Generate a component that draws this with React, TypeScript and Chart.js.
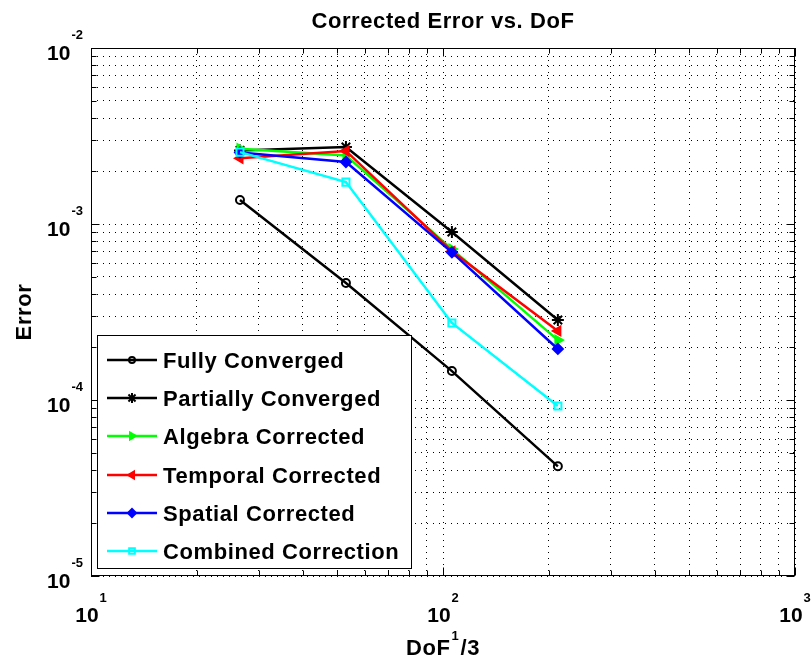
import React, { useEffect, useRef } from 'react';
import { Chart, registerables } from 'chart.js';
import { drawPoint } from 'chart.js/helpers';

Chart.register(...registerables);

// ---- data ----
const dof = [26.5, 53, 106, 212];
const fullyConverged = [1.37e-3, 4.62e-4, 1.46e-4, 4.2e-5];
const partiallyConverged = [2.62e-3, 2.74e-3, 9.0e-4, 2.85e-4];
const algebraCorrected = [2.68e-3, 2.45e-3, 7.2e-4, 2.19e-4];
const temporalCorrected = [2.36e-3, 2.6e-3, 7.0e-4, 2.47e-4];
const spatialCorrected = [2.55e-3, 2.25e-3, 6.9e-4, 1.95e-4];
const combinedCorrection = [2.56e-3, 1.73e-3, 2.74e-4, 9.25e-5];

const seriesNames = [
  'Fully Converged',
  'Partially Converged',
  'Algebra Corrected',
  'Temporal Corrected',
  'Spatial Corrected',
  'Combined Correction',
];

const xDecades = [10, 100, 1000];
const xExponents = ['1', '2', '3'];
const yDecades = [1e-5, 1e-4, 1e-3, 1e-2];
const yExponents = ['-5', '-4', '-3', '-2'];

const titleText = 'Corrected Error vs. DoF';
const yTitle = 'Error';
const xTitleParts = ['DoF', '1', '/3'];

const FONT = '"Liberation Sans", Arial, Helvetica, sans-serif';

function gridValues(decades: number[]) {
  const out: number[] = [];
  for (let i = 0; i < decades.length - 1; i++) {
    for (let k = 1; k <= 9; k++) out.push(+(k * decades[i]).toPrecision(6));
  }
  out.push(decades[decades.length - 1]);
  return out;
}

const xGrid = gridValues(xDecades);
const yGrid = gridValues(yDecades);

const toPts = (ys: number[]) => ys.map((y, i) => ({ x: dof[i], y }));

const matlabPlugin = {
  id: 'matlabDecor',
  afterDatasetsDraw(chart: any) {
    const { ctx, chartArea: a, scales } = chart;
    const xs = scales.x;
    const ys = scales.y;
    ctx.save();

    // frame
    ctx.strokeStyle = '#000';
    ctx.lineWidth = 1;
    ctx.setLineDash([]);
    const L = Math.round(a.left) + 0.5;
    const R = Math.round(a.right) - 0.5;
    const T = Math.round(a.top) + 0.5;
    const B = Math.round(a.bottom) - 0.5;
    ctx.strokeRect(L, T, R - L, B - T);

    // tick marks (inside, all four sides)
    ctx.beginPath();
    xGrid.forEach((v) => {
      const px = Math.round(xs.getPixelForValue(v)) + 0.5;
      const len = xDecades.includes(v) ? 8 : 5;
      ctx.moveTo(px, B);
      ctx.lineTo(px, B - len);
      ctx.moveTo(px, T);
      ctx.lineTo(px, T + len);
    });
    yGrid.forEach((v) => {
      const py = Math.round(ys.getPixelForValue(v)) + 0.5;
      const len = yDecades.some((d) => Math.abs(d - v) / d < 1e-9) ? 8 : 5;
      ctx.moveTo(L, py);
      ctx.lineTo(L + len, py);
      ctx.moveTo(R, py);
      ctx.lineTo(R - len, py);
    });
    ctx.stroke();

    // tick labels
    ctx.fillStyle = '#000';
    ctx.textAlign = 'left';
    ctx.textBaseline = 'alphabetic';
    const baseFont = `bold 21px ${FONT}`;
    const expFont = `bold 13px ${FONT}`;
    xDecades.forEach((v, i) => {
      const px = xs.getPixelForValue(v);
      ctx.font = baseFont;
      const bw = ctx.measureText('10').width;
      ctx.font = expFont;
      const ew = ctx.measureText(xExponents[i]).width;
      const start = px - (bw + ew + 1) / 2;
      ctx.font = baseFont;
      ctx.fillText('10', start, a.bottom + 46);
      ctx.font = expFont;
      ctx.fillText(xExponents[i], start + bw + 1, a.bottom + 26);
    });
    yDecades.forEach((v, i) => {
      const py = ys.getPixelForValue(v);
      ctx.font = expFont;
      const ew = ctx.measureText(yExponents[i]).width;
      ctx.font = baseFont;
      const bw = ctx.measureText('10').width;
      const right = a.left - 8;
      ctx.font = expFont;
      ctx.fillText(yExponents[i], right - ew, py - 9);
      ctx.font = baseFont;
      ctx.fillText('10', right - ew - 1 - bw, py + 12);
    });

    const bigFont = `bold 22px ${FONT}`;
    try { ctx.letterSpacing = '0.6px'; } catch (e) { /* ignore */ }

    // title
    ctx.font = bigFont;
    ctx.textAlign = 'center';
    ctx.fillText(titleText, (a.left + a.right) / 2, 28);

    // x title
    ctx.textAlign = 'left';
    ctx.font = bigFont;
    const w1 = ctx.measureText(xTitleParts[0]).width;
    const w3 = ctx.measureText(xTitleParts[2]).width;
    ctx.font = expFont;
    const w2 = ctx.measureText(xTitleParts[1]).width;
    let sx = (a.left + a.right) / 2 - (w1 + w2 + w3 + 2) / 2;
    ctx.font = bigFont;
    ctx.fillText(xTitleParts[0], sx, a.bottom + 79);
    sx += w1 + 1;
    ctx.font = expFont;
    ctx.fillText(xTitleParts[1], sx, a.bottom + 64);
    sx += w2 + 1;
    ctx.font = bigFont;
    ctx.fillText(xTitleParts[2], sx, a.bottom + 79);

    // y title
    ctx.save();
    ctx.translate(31, (a.top + a.bottom) / 2);
    ctx.rotate(-Math.PI / 2);
    ctx.textAlign = 'center';
    ctx.font = bigFont;
    ctx.fillText(yTitle, 0, 0);
    ctx.restore();

    // legend
    const lx = Math.round(a.left) + 6;
    const ly = 335;
    const lw = 314;
    const lh = Math.round(a.bottom) - 8 - ly;
    ctx.fillStyle = '#fff';
    ctx.fillRect(lx, ly, lw, lh);
    ctx.strokeStyle = '#000';
    ctx.lineWidth = 1;
    ctx.strokeRect(lx + 0.5, ly + 0.5, lw, lh);
    const ds = chart.data.datasets;
    const rowH = 38.2;
    ds.forEach((d: any, i: number) => {
      const cy = Math.round(ly + 25 + i * rowH);
      ctx.strokeStyle = d.borderColor;
      ctx.lineWidth = d.borderWidth;
      ctx.beginPath();
      ctx.moveTo(lx + 10, cy);
      ctx.lineTo(lx + 60, cy);
      ctx.stroke();
      ctx.fillStyle = d.pointBackgroundColor;
      ctx.strokeStyle = d.borderColor;
      ctx.lineWidth = d.pointBorderWidth;
      drawPoint(ctx, {
        pointStyle: d.pointStyle,
        rotation: d.pointRotation || 0,
        radius: Math.max(3, d.pointRadius - 1),
        borderWidth: d.pointBorderWidth,
      }, lx + 35, cy);
      ctx.fillStyle = '#000';
      ctx.font = bigFont;
      ctx.textAlign = 'left';
      ctx.fillText(d.label, lx + 66, cy + 8);
    });

    ctx.restore();
  },
};

export default function App() {
  const ref = useRef<HTMLCanvasElement | null>(null);
  useEffect(() => {
    if (!ref.current) return;
    const mk = (label: string, data: number[], color: string, style: string, extra: any) => ({
      label,
      data: toPts(data),
      borderColor: color,
      backgroundColor: color,
      borderWidth: 2.5,
      pointStyle: style,
      pointRadius: 5,
      pointBorderWidth: 2,
      pointBackgroundColor: color,
      pointBorderColor: color,
      ...extra,
    });
    const chart = new Chart(ref.current, {
      type: 'line',
      data: {
        datasets: [
          mk(seriesNames[0], fullyConverged, '#000000', 'circle', { pointBackgroundColor: 'rgba(255,255,255,0)', pointRadius: 4, order: 5 }),
          mk(seriesNames[1], partiallyConverged, '#000000', 'star', { pointRadius: 6, order: 4 }),
          mk(seriesNames[2], algebraCorrected, '#00ff00', 'triangle', { pointRotation: 90, order: 3 }),
          mk(seriesNames[3], temporalCorrected, '#ff0000', 'triangle', { pointRotation: -90, order: 2 }),
          mk(seriesNames[4], spatialCorrected, '#0000ff', 'rectRot', { order: 1 }),
          mk(seriesNames[5], combinedCorrection, '#00ffff', 'rect', { pointBackgroundColor: 'rgba(255,255,255,0)', order: 0 }),
        ],
      },
      options: {
        responsive: false,
        animation: false,
        devicePixelRatio: 1,
        layout: { padding: { left: 91, top: 48, right: 17, bottom: 86 } },
        plugins: { legend: { display: false }, tooltip: { enabled: false }, title: { display: false } },
        elements: { line: { tension: 0 } },
        scales: {
          x: {
            type: 'logarithmic',
            min: 10,
            max: 1000,
            ticks: { display: false },
            grid: { color: '#000', lineWidth: 1, drawTicks: false },
            border: { display: false, dash: [1, 5] },
            afterBuildTicks: (s: any) => {
              s.ticks = xGrid.map((v) => ({ value: v }));
            },
          },
          y: {
            type: 'logarithmic',
            min: 1e-5,
            max: 1e-2,
            ticks: { display: false },
            grid: { color: '#000', lineWidth: 1, drawTicks: false },
            border: { display: false, dash: [1, 5] },
            afterBuildTicks: (s: any) => {
              s.ticks = yGrid.map((v) => ({ value: v }));
            },
          },
        },
      },
      plugins: [matlabPlugin],
    } as any);
    return () => chart.destroy();
  }, []);
  return (
    <div style={{ position: 'fixed', left: 0, top: 0, width: 812, height: 662, background: '#fff' }}>
      <canvas ref={ref} width={812} height={662} style={{ display: 'block' }} />
    </div>
  );
}
